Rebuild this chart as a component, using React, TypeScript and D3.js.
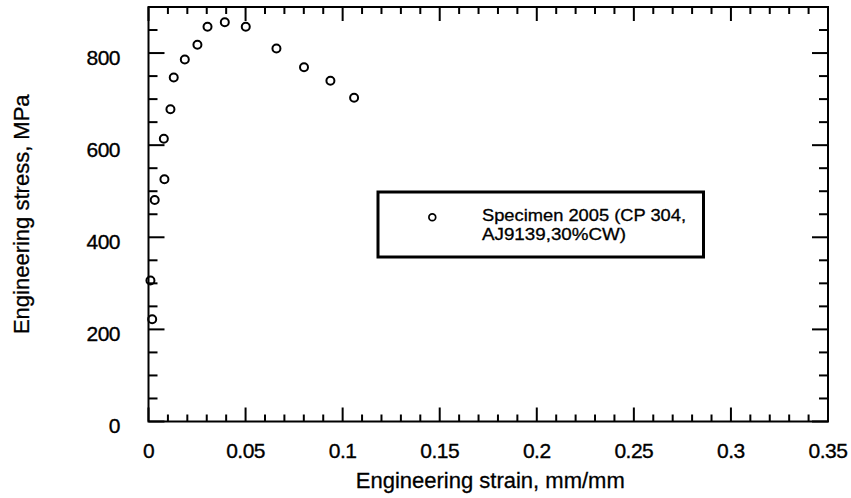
import React from "react";
import * as d3 from "d3";

const strain = [0.0019, 0.001, 0.0032, 0.0082, 0.0079, 0.0113, 0.013, 0.0187, 0.0252, 0.0304, 0.0393, 0.0501, 0.0659, 0.0801, 0.0937, 0.1059];
const stress = [222, 306, 481, 526, 614, 678, 747, 786, 818, 857, 867, 857, 810, 769, 740, 703];

const xMajor = [0, 0.05, 0.1, 0.15, 0.2, 0.25, 0.3, 0.35];
const xMajorLabels = ["0", "0.05", "0.1", "0.15", "0.2", "0.25", "0.3", "0.35"];
const yMajor = [0, 200, 400, 600, 800];
const yMajorLabels = ["0", "200", "400", "600", "800"];

const xTitle = "Engineering strain, mm/mm";
const yTitle = "Engineering stress, MPa";
const legendLines = ["Specimen 2005 (CP 304,", "AJ9139,30%CW)"];

const W = 851;
const H = 498;
const FONT = "'Liberation Sans', Arial, Helvetica, sans-serif";

export default function App() {
  const x = d3.scaleLinear().domain([0, 0.35]).range([148.5, 828]);
  const y = d3.scaleLinear().domain([0, 900]).range([421.5, 7]);

  const xMinor = d3.range(0, 36).map((i) => i * 0.01).filter((v) => Math.round(v * 100) % 5 !== 0);
  const yMinor = d3.range(0, 19).map((i) => i * 50).filter((v) => v % 200 !== 0);

  const x0 = x(0), x1 = x(0.35), y0 = y(0), y1 = y(900);
  const sw = 2;

  return (
    <svg width={W} height={H} style={{ position: "absolute", left: 0, top: 0, background: "#fff" }} fontFamily={FONT}>
      <rect x={0} y={0} width={W} height={H} fill="#fff" />
      {/* ticks */}
      <g stroke="#000" strokeWidth={sw}>
        {xMajor.map((v) => (
          <g key={"xM" + v}>
            <line x1={x(v)} x2={x(v)} y1={y0} y2={y0 - 14} />
            <line x1={x(v)} x2={x(v)} y1={y1} y2={y1 + 14} />
          </g>
        ))}
        {xMinor.map((v) => (
          <g key={"xm" + v}>
            <line x1={x(v)} x2={x(v)} y1={y0} y2={y0 - 7} />
            <line x1={x(v)} x2={x(v)} y1={y1} y2={y1 + 7} />
          </g>
        ))}
        {yMajor.map((v) => (
          <g key={"yM" + v}>
            <line x1={x0} x2={x0 + 16} y1={y(v)} y2={y(v)} />
            <line x1={x1} x2={x1 - 16} y1={y(v)} y2={y(v)} />
          </g>
        ))}
        {yMinor.map((v) => (
          <g key={"ym" + v}>
            <line x1={x0} x2={x0 + 9} y1={y(v)} y2={y(v)} />
            <line x1={x1} x2={x1 - 9} y1={y(v)} y2={y(v)} />
          </g>
        ))}
      </g>
      <rect x={x0} y={y1} width={x1 - x0} height={y0 - y1} fill="none" stroke="#000" strokeWidth={sw} />

      {/* tick labels */}
      <g fontSize={21} fill="#000" stroke="#000" strokeWidth={0.35}>
        {xMajor.map((v, i) => (
          <text key={"xl" + v} x={x(v)} y={457.5} textAnchor="middle" letterSpacing={-0.5}>
            {xMajorLabels[i]}
          </text>
        ))}
        {yMajor.map((v, i) => (
          <text key={"yl" + v} x={120} y={y(v) + 11.5} textAnchor="end" letterSpacing={-0.5}>
            {yMajorLabels[i]}
          </text>
        ))}
      </g>

      {/* axis titles */}
      <g fontSize={22} fill="#000" stroke="#000" strokeWidth={0.3}>
        <text x={(x0 + x1) / 2 + 2} y={488} textAnchor="middle">
          {xTitle}
        </text>
        <text transform={`translate(29,${(y0 + y1) / 2}) rotate(-90)`} textAnchor="middle">
          {yTitle}
        </text>
      </g>

      {/* data */}
      <g fill="none" stroke="#000" strokeWidth={2}>
        {strain.map((s, i) => (
          <circle key={"p" + i} cx={x(s)} cy={y(stress[i])} r={4} />
        ))}
      </g>

      {/* legend */}
      <rect x={378} y={192} width={325.5} height={65} fill="#fff" stroke="#000" strokeWidth={3} />
      <circle cx={432.3} cy={217.3} r={3.4} fill="none" stroke="#000" strokeWidth={1.7} />
      <g fontSize={16} fill="#000" stroke="#000" strokeWidth={0.3}>
        <text x={482} y={221} textLength={204} lengthAdjust="spacingAndGlyphs">{legendLines[0]}</text>
        <text x={482} y={239.5} textLength={144} lengthAdjust="spacingAndGlyphs">{legendLines[1]}</text>
      </g>
    </svg>
  );
}
